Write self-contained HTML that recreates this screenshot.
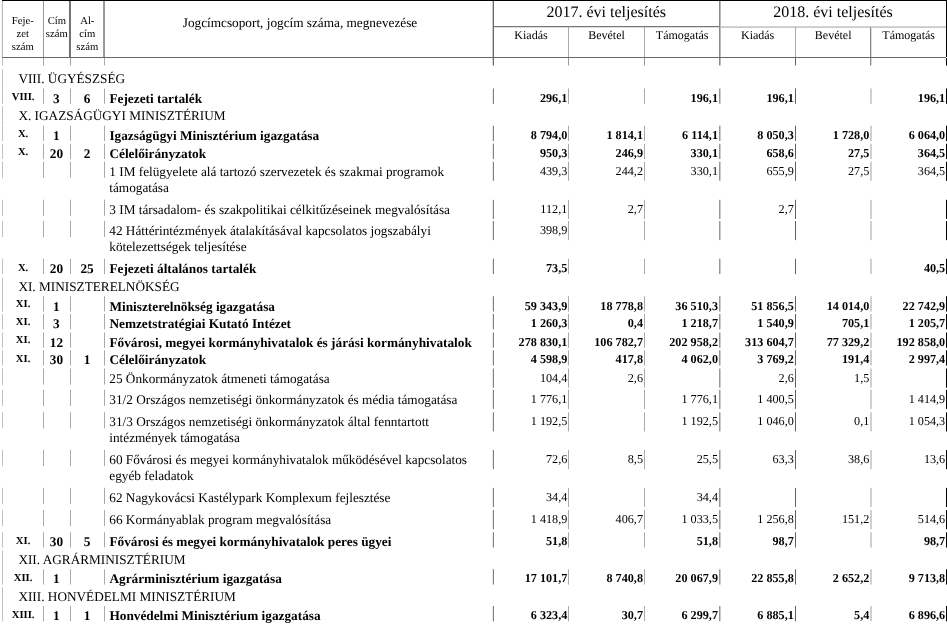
<!DOCTYPE html>
<html lang="hu">
<head>
<meta charset="utf-8">
<title>Fejezeti teljesítés</title>
<style>
html,body{margin:0;padding:0;background:#fff;}
body{width:947px;height:625px;position:relative;overflow:hidden;font-family:"Liberation Serif",serif;color:#000;}
#pg{will-change:transform;position:absolute;left:0;top:0;width:947px;height:625px;overflow:hidden;background:#fff;}
svg{position:absolute;left:0;top:0;}
.t{position:absolute;white-space:pre;line-height:20px;text-rendering:geometricPrecision;font-family:"Liberation Serif",serif;color:#000;}
.b{font-weight:bold;}
</style>
</head>
<body>
<div id="pg">
<svg width="947" height="625" viewBox="0 0 947 625">
<rect x="2" y="0" width="945" height="1" fill="#000000"/>
<rect x="493" y="26" width="227" height="1" fill="#777777"/>
<rect x="494" y="27" width="225" height="1" fill="#dddddd"/>
<rect x="720" y="26" width="226" height="1" fill="#d4d4d4"/>
<rect x="720" y="27" width="226" height="1" fill="#cacaca"/>
<rect x="2" y="57" width="944" height="1" fill="#686868"/>
<rect x="2" y="1.00" width="1" height="56.00" fill="#bcbcbc"/>
<rect x="1" y="1.00" width="1" height="56.00" fill="#efefef"/>
<rect x="2" y="58.00" width="1" height="7.50" fill="#c0c0c0"/>
<rect x="43" y="1.00" width="1" height="56.00" fill="#999999"/>
<rect x="43" y="58.00" width="1" height="7.50" fill="#a6a6a6"/>
<rect x="69" y="1.00" width="1" height="56.00" fill="#707070"/>
<rect x="70" y="1.00" width="1" height="56.00" fill="#787878"/>
<rect x="70" y="58.00" width="1" height="7.50" fill="#a2a2a2"/>
<rect x="103" y="1.00" width="1" height="56.00" fill="#9c9c9c"/>
<rect x="104" y="1.00" width="1" height="56.00" fill="#999999"/>
<rect x="104" y="58.00" width="1" height="7.50" fill="#aaaaaa"/>
<rect x="493" y="1.00" width="1" height="56.00" fill="#666666"/>
<rect x="492" y="1.00" width="1" height="56.00" fill="#cccccc"/>
<rect x="493" y="58.00" width="1" height="7.50" fill="#666666"/>
<rect x="492" y="58.00" width="1" height="7.50" fill="#d8d8d8"/>
<rect x="568" y="27.00" width="1" height="30.00" fill="#aaaaaa"/>
<rect x="568" y="58.00" width="1" height="7.50" fill="#999999"/>
<rect x="644" y="27.00" width="1" height="30.00" fill="#aaaaaa"/>
<rect x="644" y="58.00" width="1" height="7.50" fill="#999999"/>
<rect x="719" y="1.00" width="1" height="56.00" fill="#8a8a8a"/>
<rect x="720" y="1.00" width="1" height="56.00" fill="#bbbbbb"/>
<rect x="719" y="58.00" width="1" height="7.50" fill="#8a8a8a"/>
<rect x="720" y="58.00" width="1" height="7.50" fill="#bbbbbb"/>
<rect x="795" y="27.00" width="1" height="30.00" fill="#aaaaaa"/>
<rect x="795" y="58.00" width="1" height="7.50" fill="#606060"/>
<rect x="870" y="27.00" width="1" height="30.00" fill="#848484"/>
<rect x="871" y="27.00" width="1" height="30.00" fill="#dddddd"/>
<rect x="870" y="58.00" width="1" height="7.50" fill="#888888"/>
<rect x="871" y="58.00" width="1" height="7.50" fill="#dddddd"/>
<rect x="946" y="1.00" width="1" height="56.00" fill="#000000"/>
<rect x="946" y="58.00" width="1" height="7.50" fill="#000000"/>
<rect x="2" y="69.40" width="1" height="19.00" fill="#c0c0c0"/>
<rect x="2" y="88.50" width="1" height="15.30" fill="#c0c0c0"/>
<rect x="43" y="88.50" width="1" height="15.30" fill="#aaaaaa"/>
<rect x="70" y="88.50" width="1" height="15.30" fill="#aaaaaa"/>
<rect x="104" y="88.50" width="1" height="15.30" fill="#aaaaaa"/>
<rect x="493" y="88.50" width="1" height="15.30" fill="#808080"/>
<rect x="492" y="88.50" width="1" height="15.30" fill="#e8e8e8"/>
<rect x="568" y="88.50" width="1" height="15.30" fill="#aaaaaa"/>
<rect x="644" y="88.50" width="1" height="15.30" fill="#aaaaaa"/>
<rect x="719" y="88.50" width="1" height="15.30" fill="#999999"/>
<rect x="720" y="88.50" width="1" height="15.30" fill="#cccccc"/>
<rect x="795" y="88.50" width="1" height="15.30" fill="#606060"/>
<rect x="870" y="88.50" width="1" height="15.30" fill="#d0d0d0"/>
<rect x="871" y="88.50" width="1" height="15.30" fill="#d0d0d0"/>
<rect x="946" y="88.50" width="1" height="15.30" fill="#000000"/>
<rect x="2" y="106.20" width="1" height="19.00" fill="#c0c0c0"/>
<rect x="2" y="125.70" width="1" height="15.30" fill="#c0c0c0"/>
<rect x="43" y="125.70" width="1" height="15.30" fill="#aaaaaa"/>
<rect x="70" y="125.70" width="1" height="15.30" fill="#aaaaaa"/>
<rect x="104" y="125.70" width="1" height="15.30" fill="#aaaaaa"/>
<rect x="493" y="125.70" width="1" height="15.30" fill="#808080"/>
<rect x="492" y="125.70" width="1" height="15.30" fill="#e8e8e8"/>
<rect x="568" y="125.70" width="1" height="15.30" fill="#aaaaaa"/>
<rect x="644" y="125.70" width="1" height="15.30" fill="#aaaaaa"/>
<rect x="719" y="125.70" width="1" height="15.30" fill="#999999"/>
<rect x="720" y="125.70" width="1" height="15.30" fill="#cccccc"/>
<rect x="795" y="125.70" width="1" height="15.30" fill="#606060"/>
<rect x="870" y="125.70" width="1" height="15.30" fill="#d0d0d0"/>
<rect x="871" y="125.70" width="1" height="15.30" fill="#d0d0d0"/>
<rect x="946" y="125.70" width="1" height="15.30" fill="#000000"/>
<rect x="2" y="143.75" width="1" height="15.30" fill="#c0c0c0"/>
<rect x="43" y="143.75" width="1" height="15.30" fill="#aaaaaa"/>
<rect x="70" y="143.75" width="1" height="15.30" fill="#aaaaaa"/>
<rect x="104" y="143.75" width="1" height="15.30" fill="#aaaaaa"/>
<rect x="493" y="143.75" width="1" height="15.30" fill="#808080"/>
<rect x="492" y="143.75" width="1" height="15.30" fill="#e8e8e8"/>
<rect x="568" y="143.75" width="1" height="15.30" fill="#aaaaaa"/>
<rect x="644" y="143.75" width="1" height="15.30" fill="#aaaaaa"/>
<rect x="719" y="143.75" width="1" height="15.30" fill="#999999"/>
<rect x="720" y="143.75" width="1" height="15.30" fill="#cccccc"/>
<rect x="795" y="143.75" width="1" height="15.30" fill="#606060"/>
<rect x="870" y="143.75" width="1" height="15.30" fill="#d0d0d0"/>
<rect x="871" y="143.75" width="1" height="15.30" fill="#d0d0d0"/>
<rect x="946" y="143.75" width="1" height="15.30" fill="#000000"/>
<rect x="2" y="161.60" width="1" height="16.20" fill="#c0c0c0"/>
<rect x="43" y="161.60" width="1" height="16.20" fill="#aaaaaa"/>
<rect x="70" y="161.60" width="1" height="16.20" fill="#aaaaaa"/>
<rect x="104" y="161.60" width="1" height="16.20" fill="#aaaaaa"/>
<rect x="493" y="161.70" width="1" height="19.10" fill="#808080"/>
<rect x="492" y="161.70" width="1" height="19.10" fill="#e8e8e8"/>
<rect x="568" y="161.70" width="1" height="19.10" fill="#aaaaaa"/>
<rect x="644" y="161.70" width="1" height="19.10" fill="#aaaaaa"/>
<rect x="719" y="161.70" width="1" height="19.10" fill="#999999"/>
<rect x="720" y="161.70" width="1" height="19.10" fill="#cccccc"/>
<rect x="795" y="161.70" width="1" height="19.10" fill="#606060"/>
<rect x="870" y="161.70" width="1" height="19.10" fill="#d0d0d0"/>
<rect x="871" y="161.70" width="1" height="19.10" fill="#d0d0d0"/>
<rect x="946" y="161.70" width="1" height="19.10" fill="#000000"/>
<rect x="2" y="199.70" width="1" height="16.20" fill="#c0c0c0"/>
<rect x="43" y="199.70" width="1" height="16.20" fill="#aaaaaa"/>
<rect x="70" y="199.70" width="1" height="16.20" fill="#aaaaaa"/>
<rect x="104" y="199.70" width="1" height="16.20" fill="#aaaaaa"/>
<rect x="493" y="199.80" width="1" height="19.10" fill="#808080"/>
<rect x="492" y="199.80" width="1" height="19.10" fill="#e8e8e8"/>
<rect x="568" y="199.80" width="1" height="19.10" fill="#aaaaaa"/>
<rect x="644" y="199.80" width="1" height="19.10" fill="#aaaaaa"/>
<rect x="719" y="199.80" width="1" height="19.10" fill="#999999"/>
<rect x="720" y="199.80" width="1" height="19.10" fill="#cccccc"/>
<rect x="795" y="199.80" width="1" height="19.10" fill="#606060"/>
<rect x="870" y="199.80" width="1" height="19.10" fill="#d0d0d0"/>
<rect x="871" y="199.80" width="1" height="19.10" fill="#d0d0d0"/>
<rect x="946" y="199.80" width="1" height="19.10" fill="#000000"/>
<rect x="2" y="220.95" width="1" height="16.20" fill="#c0c0c0"/>
<rect x="43" y="220.95" width="1" height="16.20" fill="#aaaaaa"/>
<rect x="70" y="220.95" width="1" height="16.20" fill="#aaaaaa"/>
<rect x="104" y="220.95" width="1" height="16.20" fill="#aaaaaa"/>
<rect x="493" y="221.05" width="1" height="19.10" fill="#808080"/>
<rect x="492" y="221.05" width="1" height="19.10" fill="#e8e8e8"/>
<rect x="568" y="221.05" width="1" height="19.10" fill="#aaaaaa"/>
<rect x="644" y="221.05" width="1" height="19.10" fill="#aaaaaa"/>
<rect x="719" y="221.05" width="1" height="19.10" fill="#999999"/>
<rect x="720" y="221.05" width="1" height="19.10" fill="#cccccc"/>
<rect x="795" y="221.05" width="1" height="19.10" fill="#606060"/>
<rect x="870" y="221.05" width="1" height="19.10" fill="#d0d0d0"/>
<rect x="871" y="221.05" width="1" height="19.10" fill="#d0d0d0"/>
<rect x="946" y="221.05" width="1" height="19.10" fill="#000000"/>
<rect x="2" y="258.75" width="1" height="15.30" fill="#c0c0c0"/>
<rect x="43" y="258.75" width="1" height="15.30" fill="#aaaaaa"/>
<rect x="70" y="258.75" width="1" height="15.30" fill="#aaaaaa"/>
<rect x="104" y="258.75" width="1" height="15.30" fill="#aaaaaa"/>
<rect x="493" y="258.75" width="1" height="15.30" fill="#808080"/>
<rect x="492" y="258.75" width="1" height="15.30" fill="#e8e8e8"/>
<rect x="568" y="258.75" width="1" height="15.30" fill="#aaaaaa"/>
<rect x="644" y="258.75" width="1" height="15.30" fill="#aaaaaa"/>
<rect x="719" y="258.75" width="1" height="15.30" fill="#999999"/>
<rect x="720" y="258.75" width="1" height="15.30" fill="#cccccc"/>
<rect x="795" y="258.75" width="1" height="15.30" fill="#606060"/>
<rect x="870" y="258.75" width="1" height="15.30" fill="#d0d0d0"/>
<rect x="871" y="258.75" width="1" height="15.30" fill="#d0d0d0"/>
<rect x="946" y="258.75" width="1" height="15.30" fill="#000000"/>
<rect x="2" y="277.50" width="1" height="19.00" fill="#c0c0c0"/>
<rect x="2" y="296.25" width="1" height="15.30" fill="#c0c0c0"/>
<rect x="43" y="296.25" width="1" height="15.30" fill="#aaaaaa"/>
<rect x="70" y="296.25" width="1" height="15.30" fill="#aaaaaa"/>
<rect x="104" y="296.25" width="1" height="15.30" fill="#aaaaaa"/>
<rect x="493" y="296.25" width="1" height="15.30" fill="#808080"/>
<rect x="492" y="296.25" width="1" height="15.30" fill="#e8e8e8"/>
<rect x="568" y="296.25" width="1" height="15.30" fill="#aaaaaa"/>
<rect x="644" y="296.25" width="1" height="15.30" fill="#aaaaaa"/>
<rect x="719" y="296.25" width="1" height="15.30" fill="#999999"/>
<rect x="720" y="296.25" width="1" height="15.30" fill="#cccccc"/>
<rect x="795" y="296.25" width="1" height="15.30" fill="#606060"/>
<rect x="870" y="296.25" width="1" height="15.30" fill="#d0d0d0"/>
<rect x="871" y="296.25" width="1" height="15.30" fill="#d0d0d0"/>
<rect x="946" y="296.25" width="1" height="15.30" fill="#000000"/>
<rect x="2" y="314.00" width="1" height="15.30" fill="#c0c0c0"/>
<rect x="43" y="314.00" width="1" height="15.30" fill="#aaaaaa"/>
<rect x="70" y="314.00" width="1" height="15.30" fill="#aaaaaa"/>
<rect x="104" y="314.00" width="1" height="15.30" fill="#aaaaaa"/>
<rect x="493" y="314.00" width="1" height="15.30" fill="#808080"/>
<rect x="492" y="314.00" width="1" height="15.30" fill="#e8e8e8"/>
<rect x="568" y="314.00" width="1" height="15.30" fill="#aaaaaa"/>
<rect x="644" y="314.00" width="1" height="15.30" fill="#aaaaaa"/>
<rect x="719" y="314.00" width="1" height="15.30" fill="#999999"/>
<rect x="720" y="314.00" width="1" height="15.30" fill="#cccccc"/>
<rect x="795" y="314.00" width="1" height="15.30" fill="#606060"/>
<rect x="870" y="314.00" width="1" height="15.30" fill="#d0d0d0"/>
<rect x="871" y="314.00" width="1" height="15.30" fill="#d0d0d0"/>
<rect x="946" y="314.00" width="1" height="15.30" fill="#000000"/>
<rect x="2" y="332.50" width="1" height="15.30" fill="#c0c0c0"/>
<rect x="43" y="332.50" width="1" height="15.30" fill="#aaaaaa"/>
<rect x="70" y="332.50" width="1" height="15.30" fill="#aaaaaa"/>
<rect x="104" y="332.50" width="1" height="15.30" fill="#aaaaaa"/>
<rect x="493" y="332.50" width="1" height="15.30" fill="#808080"/>
<rect x="492" y="332.50" width="1" height="15.30" fill="#e8e8e8"/>
<rect x="568" y="332.50" width="1" height="15.30" fill="#aaaaaa"/>
<rect x="644" y="332.50" width="1" height="15.30" fill="#aaaaaa"/>
<rect x="719" y="332.50" width="1" height="15.30" fill="#999999"/>
<rect x="720" y="332.50" width="1" height="15.30" fill="#cccccc"/>
<rect x="795" y="332.50" width="1" height="15.30" fill="#606060"/>
<rect x="870" y="332.50" width="1" height="15.30" fill="#d0d0d0"/>
<rect x="871" y="332.50" width="1" height="15.30" fill="#d0d0d0"/>
<rect x="946" y="332.50" width="1" height="15.30" fill="#000000"/>
<rect x="2" y="350.25" width="1" height="15.30" fill="#c0c0c0"/>
<rect x="43" y="350.25" width="1" height="15.30" fill="#aaaaaa"/>
<rect x="70" y="350.25" width="1" height="15.30" fill="#aaaaaa"/>
<rect x="104" y="350.25" width="1" height="15.30" fill="#aaaaaa"/>
<rect x="493" y="350.25" width="1" height="15.30" fill="#808080"/>
<rect x="492" y="350.25" width="1" height="15.30" fill="#e8e8e8"/>
<rect x="568" y="350.25" width="1" height="15.30" fill="#aaaaaa"/>
<rect x="644" y="350.25" width="1" height="15.30" fill="#aaaaaa"/>
<rect x="719" y="350.25" width="1" height="15.30" fill="#999999"/>
<rect x="720" y="350.25" width="1" height="15.30" fill="#cccccc"/>
<rect x="795" y="350.25" width="1" height="15.30" fill="#606060"/>
<rect x="870" y="350.25" width="1" height="15.30" fill="#d0d0d0"/>
<rect x="871" y="350.25" width="1" height="15.30" fill="#d0d0d0"/>
<rect x="946" y="350.25" width="1" height="15.30" fill="#000000"/>
<rect x="2" y="368.45" width="1" height="16.20" fill="#c0c0c0"/>
<rect x="43" y="368.45" width="1" height="16.20" fill="#aaaaaa"/>
<rect x="70" y="368.45" width="1" height="16.20" fill="#aaaaaa"/>
<rect x="104" y="368.45" width="1" height="16.20" fill="#aaaaaa"/>
<rect x="493" y="368.55" width="1" height="19.10" fill="#808080"/>
<rect x="492" y="368.55" width="1" height="19.10" fill="#e8e8e8"/>
<rect x="568" y="368.55" width="1" height="19.10" fill="#aaaaaa"/>
<rect x="644" y="368.55" width="1" height="19.10" fill="#aaaaaa"/>
<rect x="719" y="368.55" width="1" height="19.10" fill="#999999"/>
<rect x="720" y="368.55" width="1" height="19.10" fill="#cccccc"/>
<rect x="795" y="368.55" width="1" height="19.10" fill="#606060"/>
<rect x="870" y="368.55" width="1" height="19.10" fill="#d0d0d0"/>
<rect x="871" y="368.55" width="1" height="19.10" fill="#d0d0d0"/>
<rect x="946" y="368.55" width="1" height="19.10" fill="#000000"/>
<rect x="2" y="389.70" width="1" height="16.20" fill="#c0c0c0"/>
<rect x="43" y="389.70" width="1" height="16.20" fill="#aaaaaa"/>
<rect x="70" y="389.70" width="1" height="16.20" fill="#aaaaaa"/>
<rect x="104" y="389.70" width="1" height="16.20" fill="#aaaaaa"/>
<rect x="493" y="389.80" width="1" height="19.10" fill="#808080"/>
<rect x="492" y="389.80" width="1" height="19.10" fill="#e8e8e8"/>
<rect x="568" y="389.80" width="1" height="19.10" fill="#aaaaaa"/>
<rect x="644" y="389.80" width="1" height="19.10" fill="#aaaaaa"/>
<rect x="719" y="389.80" width="1" height="19.10" fill="#999999"/>
<rect x="720" y="389.80" width="1" height="19.10" fill="#cccccc"/>
<rect x="795" y="389.80" width="1" height="19.10" fill="#606060"/>
<rect x="870" y="389.80" width="1" height="19.10" fill="#d0d0d0"/>
<rect x="871" y="389.80" width="1" height="19.10" fill="#d0d0d0"/>
<rect x="946" y="389.80" width="1" height="19.10" fill="#000000"/>
<rect x="2" y="412.20" width="1" height="16.20" fill="#c0c0c0"/>
<rect x="43" y="412.20" width="1" height="16.20" fill="#aaaaaa"/>
<rect x="70" y="412.20" width="1" height="16.20" fill="#aaaaaa"/>
<rect x="104" y="412.20" width="1" height="16.20" fill="#aaaaaa"/>
<rect x="493" y="412.30" width="1" height="19.10" fill="#808080"/>
<rect x="492" y="412.30" width="1" height="19.10" fill="#e8e8e8"/>
<rect x="568" y="412.30" width="1" height="19.10" fill="#aaaaaa"/>
<rect x="644" y="412.30" width="1" height="19.10" fill="#aaaaaa"/>
<rect x="719" y="412.30" width="1" height="19.10" fill="#999999"/>
<rect x="720" y="412.30" width="1" height="19.10" fill="#cccccc"/>
<rect x="795" y="412.30" width="1" height="19.10" fill="#606060"/>
<rect x="870" y="412.30" width="1" height="19.10" fill="#d0d0d0"/>
<rect x="871" y="412.30" width="1" height="19.10" fill="#d0d0d0"/>
<rect x="946" y="412.30" width="1" height="19.10" fill="#000000"/>
<rect x="2" y="449.95" width="1" height="16.20" fill="#c0c0c0"/>
<rect x="43" y="449.95" width="1" height="16.20" fill="#aaaaaa"/>
<rect x="70" y="449.95" width="1" height="16.20" fill="#aaaaaa"/>
<rect x="104" y="449.95" width="1" height="16.20" fill="#aaaaaa"/>
<rect x="493" y="450.05" width="1" height="19.10" fill="#808080"/>
<rect x="492" y="450.05" width="1" height="19.10" fill="#e8e8e8"/>
<rect x="568" y="450.05" width="1" height="19.10" fill="#aaaaaa"/>
<rect x="644" y="450.05" width="1" height="19.10" fill="#aaaaaa"/>
<rect x="719" y="450.05" width="1" height="19.10" fill="#999999"/>
<rect x="720" y="450.05" width="1" height="19.10" fill="#cccccc"/>
<rect x="795" y="450.05" width="1" height="19.10" fill="#606060"/>
<rect x="870" y="450.05" width="1" height="19.10" fill="#d0d0d0"/>
<rect x="871" y="450.05" width="1" height="19.10" fill="#d0d0d0"/>
<rect x="946" y="450.05" width="1" height="19.10" fill="#000000"/>
<rect x="2" y="487.80" width="1" height="16.20" fill="#c0c0c0"/>
<rect x="43" y="487.80" width="1" height="16.20" fill="#aaaaaa"/>
<rect x="70" y="487.80" width="1" height="16.20" fill="#aaaaaa"/>
<rect x="104" y="487.80" width="1" height="16.20" fill="#aaaaaa"/>
<rect x="493" y="487.90" width="1" height="19.10" fill="#808080"/>
<rect x="492" y="487.90" width="1" height="19.10" fill="#e8e8e8"/>
<rect x="568" y="487.90" width="1" height="19.10" fill="#aaaaaa"/>
<rect x="644" y="487.90" width="1" height="19.10" fill="#aaaaaa"/>
<rect x="719" y="487.90" width="1" height="19.10" fill="#999999"/>
<rect x="720" y="487.90" width="1" height="19.10" fill="#cccccc"/>
<rect x="795" y="487.90" width="1" height="19.10" fill="#606060"/>
<rect x="870" y="487.90" width="1" height="19.10" fill="#d0d0d0"/>
<rect x="871" y="487.90" width="1" height="19.10" fill="#d0d0d0"/>
<rect x="946" y="487.90" width="1" height="19.10" fill="#000000"/>
<rect x="2" y="509.95" width="1" height="16.20" fill="#c0c0c0"/>
<rect x="43" y="509.95" width="1" height="16.20" fill="#aaaaaa"/>
<rect x="70" y="509.95" width="1" height="16.20" fill="#aaaaaa"/>
<rect x="104" y="509.95" width="1" height="16.20" fill="#aaaaaa"/>
<rect x="493" y="510.05" width="1" height="19.10" fill="#808080"/>
<rect x="492" y="510.05" width="1" height="19.10" fill="#e8e8e8"/>
<rect x="568" y="510.05" width="1" height="19.10" fill="#aaaaaa"/>
<rect x="644" y="510.05" width="1" height="19.10" fill="#aaaaaa"/>
<rect x="719" y="510.05" width="1" height="19.10" fill="#999999"/>
<rect x="720" y="510.05" width="1" height="19.10" fill="#cccccc"/>
<rect x="795" y="510.05" width="1" height="19.10" fill="#606060"/>
<rect x="870" y="510.05" width="1" height="19.10" fill="#d0d0d0"/>
<rect x="871" y="510.05" width="1" height="19.10" fill="#d0d0d0"/>
<rect x="946" y="510.05" width="1" height="19.10" fill="#000000"/>
<rect x="2" y="532.25" width="1" height="15.30" fill="#c0c0c0"/>
<rect x="43" y="532.25" width="1" height="15.30" fill="#aaaaaa"/>
<rect x="70" y="532.25" width="1" height="15.30" fill="#aaaaaa"/>
<rect x="104" y="532.25" width="1" height="15.30" fill="#aaaaaa"/>
<rect x="493" y="532.25" width="1" height="15.30" fill="#808080"/>
<rect x="492" y="532.25" width="1" height="15.30" fill="#e8e8e8"/>
<rect x="568" y="532.25" width="1" height="15.30" fill="#aaaaaa"/>
<rect x="644" y="532.25" width="1" height="15.30" fill="#aaaaaa"/>
<rect x="719" y="532.25" width="1" height="15.30" fill="#999999"/>
<rect x="720" y="532.25" width="1" height="15.30" fill="#cccccc"/>
<rect x="795" y="532.25" width="1" height="15.30" fill="#606060"/>
<rect x="870" y="532.25" width="1" height="15.30" fill="#d0d0d0"/>
<rect x="871" y="532.25" width="1" height="15.30" fill="#d0d0d0"/>
<rect x="946" y="532.25" width="1" height="15.30" fill="#000000"/>
<rect x="2" y="550.50" width="1" height="19.00" fill="#c0c0c0"/>
<rect x="2" y="569.25" width="1" height="15.30" fill="#c0c0c0"/>
<rect x="43" y="569.25" width="1" height="15.30" fill="#aaaaaa"/>
<rect x="70" y="569.25" width="1" height="15.30" fill="#aaaaaa"/>
<rect x="104" y="569.25" width="1" height="15.30" fill="#aaaaaa"/>
<rect x="493" y="569.25" width="1" height="15.30" fill="#808080"/>
<rect x="492" y="569.25" width="1" height="15.30" fill="#e8e8e8"/>
<rect x="568" y="569.25" width="1" height="15.30" fill="#aaaaaa"/>
<rect x="644" y="569.25" width="1" height="15.30" fill="#aaaaaa"/>
<rect x="719" y="569.25" width="1" height="15.30" fill="#999999"/>
<rect x="720" y="569.25" width="1" height="15.30" fill="#cccccc"/>
<rect x="795" y="569.25" width="1" height="15.30" fill="#606060"/>
<rect x="870" y="569.25" width="1" height="15.30" fill="#d0d0d0"/>
<rect x="871" y="569.25" width="1" height="15.30" fill="#d0d0d0"/>
<rect x="946" y="569.25" width="1" height="15.30" fill="#000000"/>
<rect x="2" y="587.00" width="1" height="19.00" fill="#c0c0c0"/>
<rect x="2" y="606.00" width="1" height="15.30" fill="#c0c0c0"/>
<rect x="43" y="606.00" width="1" height="15.30" fill="#aaaaaa"/>
<rect x="70" y="606.00" width="1" height="15.30" fill="#aaaaaa"/>
<rect x="104" y="606.00" width="1" height="15.30" fill="#aaaaaa"/>
<rect x="493" y="606.00" width="1" height="15.30" fill="#808080"/>
<rect x="492" y="606.00" width="1" height="15.30" fill="#e8e8e8"/>
<rect x="568" y="606.00" width="1" height="15.30" fill="#aaaaaa"/>
<rect x="644" y="606.00" width="1" height="15.30" fill="#aaaaaa"/>
<rect x="719" y="606.00" width="1" height="15.30" fill="#999999"/>
<rect x="720" y="606.00" width="1" height="15.30" fill="#cccccc"/>
<rect x="795" y="606.00" width="1" height="15.30" fill="#606060"/>
<rect x="870" y="606.00" width="1" height="15.30" fill="#d0d0d0"/>
<rect x="871" y="606.00" width="1" height="15.30" fill="#d0d0d0"/>
<rect x="946" y="606.00" width="1" height="15.30" fill="#000000"/>
</svg>
<div class="t" style="left:-127.20px;width:300px;text-align:center;top:11px;font-size:10.67px;">Feje-</div>
<div class="t" style="left:-127.20px;width:300px;text-align:center;top:24px;font-size:10.67px;">zet</div>
<div class="t" style="left:-127.20px;width:300px;text-align:center;top:37px;font-size:10.67px;">szám</div>
<div class="t" style="left:-93.20px;width:300px;text-align:center;top:11px;font-size:10.67px;">Cím</div>
<div class="t" style="left:-93.20px;width:300px;text-align:center;top:24px;font-size:10.67px;">szám</div>
<div class="t" style="left:-62.70px;width:300px;text-align:center;top:11px;font-size:10.67px;">Al-</div>
<div class="t" style="left:-62.70px;width:300px;text-align:center;top:24px;font-size:10.67px;">cím</div>
<div class="t" style="left:-62.70px;width:300px;text-align:center;top:37px;font-size:10.67px;">szám</div>
<div class="t" style="left:150.00px;width:300px;text-align:center;top:13px;font-size:13.26px;">Jogcímcsoport, jogcím száma, megnevezése</div>
<div class="t" style="left:456.20px;width:300px;text-align:center;top:3px;font-size:16px;">2017. évi teljesítés</div>
<div class="t" style="left:683.00px;width:300px;text-align:center;top:3px;font-size:16px;">2018. évi teljesítés</div>
<div class="t" style="left:381.00px;width:300px;text-align:center;top:25px;font-size:12.0px;">Kiadás</div>
<div class="t" style="left:456.50px;width:300px;text-align:center;top:25px;font-size:12.0px;">Bevétel</div>
<div class="t" style="left:532.15px;width:300px;text-align:center;top:25px;font-size:12.0px;">Támogatás</div>
<div class="t" style="left:607.65px;width:300px;text-align:center;top:25px;font-size:12.0px;">Kiadás</div>
<div class="t" style="left:683.15px;width:300px;text-align:center;top:25px;font-size:12.0px;">Bevétel</div>
<div class="t" style="left:758.65px;width:300px;text-align:center;top:25px;font-size:12.0px;">Támogatás</div>
<div class="t" style="left:18.40px;top:69px;font-size:13.26px;">VIII. ÜGYÉSZSÉG</div>
<div class="t b" style="left:-126.90px;width:300px;text-align:center;top:87px;font-size:10.67px;">VIII.</div>
<div class="t b" style="left:-93.60px;width:300px;text-align:center;top:89px;font-size:13.26px;">3</div>
<div class="t b" style="left:-63.00px;width:300px;text-align:center;top:89px;font-size:13.26px;">6</div>
<div class="t b" style="left:109.40px;top:89px;font-size:13.3px;">Fejezeti tartalék</div>
<div class="t b" style="right:379.70px;top:88px;font-size:12.2px;">296,1</div>
<div class="t b" style="right:229.00px;top:88px;font-size:12.2px;">196,1</div>
<div class="t b" style="right:153.20px;top:88px;font-size:12.2px;">196,1</div>
<div class="t b" style="right:1.80px;top:88px;font-size:12.2px;">196,1</div>
<div class="t" style="left:18.40px;top:106px;font-size:13.26px;">X. IGAZSÁGÜGYI MINISZTÉRIUM</div>
<div class="t b" style="left:-126.90px;width:300px;text-align:center;top:124px;font-size:10.67px;">X.</div>
<div class="t b" style="left:-93.60px;width:300px;text-align:center;top:126px;font-size:13.26px;">1</div>
<div class="t b" style="left:109.40px;top:126px;font-size:13.3px;">Igazságügyi Minisztérium igazgatása</div>
<div class="t b" style="right:379.70px;top:125px;font-size:12.2px;">8 794,0</div>
<div class="t b" style="right:304.00px;top:125px;font-size:12.2px;">1 814,1</div>
<div class="t b" style="right:229.00px;top:125px;font-size:12.2px;">6 114,1</div>
<div class="t b" style="right:153.20px;top:125px;font-size:12.2px;">8 050,3</div>
<div class="t b" style="right:77.70px;top:125px;font-size:12.2px;">1 728,0</div>
<div class="t b" style="right:1.80px;top:125px;font-size:12.2px;">6 064,0</div>
<div class="t b" style="left:-126.90px;width:300px;text-align:center;top:142px;font-size:10.67px;">X.</div>
<div class="t b" style="left:-93.60px;width:300px;text-align:center;top:144px;font-size:13.26px;">20</div>
<div class="t b" style="left:-63.00px;width:300px;text-align:center;top:144px;font-size:13.26px;">2</div>
<div class="t b" style="left:109.40px;top:144px;font-size:13.3px;">Célelőirányzatok</div>
<div class="t b" style="right:379.70px;top:143px;font-size:12.2px;">950,3</div>
<div class="t b" style="right:304.00px;top:143px;font-size:12.2px;">246,9</div>
<div class="t b" style="right:229.00px;top:143px;font-size:12.2px;">330,1</div>
<div class="t b" style="right:153.20px;top:143px;font-size:12.2px;">658,6</div>
<div class="t b" style="right:77.70px;top:143px;font-size:12.2px;">27,5</div>
<div class="t b" style="right:1.80px;top:143px;font-size:12.2px;">364,5</div>
<div class="t" style="left:109.30px;top:162px;font-size:13.26px;">1 IM felügyelete alá tartozó szervezetek és szakmai programok</div>
<div class="t" style="left:109.30px;top:178px;font-size:13.26px;">támogatása</div>
<div class="t" style="right:379.70px;top:161px;font-size:12.2px;">439,3</div>
<div class="t" style="right:304.00px;top:161px;font-size:12.2px;">244,2</div>
<div class="t" style="right:229.00px;top:161px;font-size:12.2px;">330,1</div>
<div class="t" style="right:153.20px;top:161px;font-size:12.2px;">655,9</div>
<div class="t" style="right:77.70px;top:161px;font-size:12.2px;">27,5</div>
<div class="t" style="right:1.80px;top:161px;font-size:12.2px;">364,5</div>
<div class="t" style="left:109.30px;top:200px;font-size:13.26px;">3 IM társadalom- és szakpolitikai célkitűzéseinek megvalósítása</div>
<div class="t" style="right:379.70px;top:199px;font-size:12.2px;">112,1</div>
<div class="t" style="right:304.00px;top:199px;font-size:12.2px;">2,7</div>
<div class="t" style="right:153.20px;top:199px;font-size:12.2px;">2,7</div>
<div class="t" style="left:109.30px;top:221px;font-size:13.26px;">42 Háttérintézmények átalakításával kapcsolatos jogszabályi</div>
<div class="t" style="left:109.30px;top:237px;font-size:13.26px;">kötelezettségek teljesítése</div>
<div class="t" style="right:379.70px;top:220px;font-size:12.2px;">398,9</div>
<div class="t b" style="left:-126.90px;width:300px;text-align:center;top:258px;font-size:10.67px;">X.</div>
<div class="t b" style="left:-93.60px;width:300px;text-align:center;top:259px;font-size:13.26px;">20</div>
<div class="t b" style="left:-63.00px;width:300px;text-align:center;top:259px;font-size:13.26px;">25</div>
<div class="t b" style="left:109.40px;top:259px;font-size:13.3px;">Fejezeti általános tartalék</div>
<div class="t b" style="right:379.70px;top:258px;font-size:12.2px;">73,5</div>
<div class="t b" style="right:1.80px;top:258px;font-size:12.2px;">40,5</div>
<div class="t" style="left:18.40px;top:277px;font-size:13.26px;">XI. MINISZTERELNÖKSÉG</div>
<div class="t b" style="left:-126.90px;width:300px;text-align:center;top:294px;font-size:10.67px;">XI.</div>
<div class="t b" style="left:-93.60px;width:300px;text-align:center;top:297px;font-size:13.26px;">1</div>
<div class="t b" style="left:109.40px;top:297px;font-size:13.3px;">Miniszterelnökség igazgatása</div>
<div class="t b" style="right:379.70px;top:296px;font-size:12.2px;">59 343,9</div>
<div class="t b" style="right:304.00px;top:296px;font-size:12.2px;">18 778,8</div>
<div class="t b" style="right:229.00px;top:296px;font-size:12.2px;">36 510,3</div>
<div class="t b" style="right:153.20px;top:296px;font-size:12.2px;">51 856,5</div>
<div class="t b" style="right:77.70px;top:296px;font-size:12.2px;">14 014,0</div>
<div class="t b" style="right:1.80px;top:296px;font-size:12.2px;">22 742,9</div>
<div class="t b" style="left:-126.90px;width:300px;text-align:center;top:312px;font-size:10.67px;">XI.</div>
<div class="t b" style="left:-93.60px;width:300px;text-align:center;top:314px;font-size:13.26px;">3</div>
<div class="t b" style="left:109.40px;top:314px;font-size:13.3px;">Nemzetstratégiai Kutató Intézet</div>
<div class="t b" style="right:379.70px;top:313px;font-size:12.2px;">1 260,3</div>
<div class="t b" style="right:304.00px;top:313px;font-size:12.2px;">0,4</div>
<div class="t b" style="right:229.00px;top:313px;font-size:12.2px;">1 218,7</div>
<div class="t b" style="right:153.20px;top:313px;font-size:12.2px;">1 540,9</div>
<div class="t b" style="right:77.70px;top:313px;font-size:12.2px;">705,1</div>
<div class="t b" style="right:1.80px;top:313px;font-size:12.2px;">1 205,7</div>
<div class="t b" style="left:-126.90px;width:300px;text-align:center;top:330px;font-size:10.67px;">XI.</div>
<div class="t b" style="left:-93.60px;width:300px;text-align:center;top:333px;font-size:13.26px;">12</div>
<div class="t b" style="left:109.40px;top:333px;font-size:13.3px;">Fővárosi, megyei kormányhivatalok és járási kormányhivatalok</div>
<div class="t b" style="right:379.70px;top:332px;font-size:12.2px;">278 830,1</div>
<div class="t b" style="right:304.00px;top:332px;font-size:12.2px;">106 782,7</div>
<div class="t b" style="right:229.00px;top:332px;font-size:12.2px;">202 958,2</div>
<div class="t b" style="right:153.20px;top:332px;font-size:12.2px;">313 604,7</div>
<div class="t b" style="right:77.70px;top:332px;font-size:12.2px;">77 329,2</div>
<div class="t b" style="right:1.80px;top:332px;font-size:12.2px;">192 858,0</div>
<div class="t b" style="left:-126.90px;width:300px;text-align:center;top:349px;font-size:10.67px;">XI.</div>
<div class="t b" style="left:-93.60px;width:300px;text-align:center;top:350px;font-size:13.26px;">30</div>
<div class="t b" style="left:-63.00px;width:300px;text-align:center;top:350px;font-size:13.26px;">1</div>
<div class="t b" style="left:109.40px;top:350px;font-size:13.3px;">Célelőirányzatok</div>
<div class="t b" style="right:379.70px;top:349px;font-size:12.2px;">4 598,9</div>
<div class="t b" style="right:304.00px;top:349px;font-size:12.2px;">417,8</div>
<div class="t b" style="right:229.00px;top:349px;font-size:12.2px;">4 062,0</div>
<div class="t b" style="right:153.20px;top:349px;font-size:12.2px;">3 769,2</div>
<div class="t b" style="right:77.70px;top:349px;font-size:12.2px;">191,4</div>
<div class="t b" style="right:1.80px;top:349px;font-size:12.2px;">2 997,4</div>
<div class="t" style="left:109.30px;top:369px;font-size:13.26px;">25 Önkormányzatok átmeneti támogatása</div>
<div class="t" style="right:379.70px;top:368px;font-size:12.2px;">104,4</div>
<div class="t" style="right:304.00px;top:368px;font-size:12.2px;">2,6</div>
<div class="t" style="right:153.20px;top:368px;font-size:12.2px;">2,6</div>
<div class="t" style="right:77.70px;top:368px;font-size:12.2px;">1,5</div>
<div class="t" style="left:109.30px;top:390px;font-size:13.26px;">31/2 Országos nemzetiségi önkormányzatok és média támogatása</div>
<div class="t" style="right:379.70px;top:389px;font-size:12.2px;">1 776,1</div>
<div class="t" style="right:229.00px;top:389px;font-size:12.2px;">1 776,1</div>
<div class="t" style="right:153.20px;top:389px;font-size:12.2px;">1 400,5</div>
<div class="t" style="right:1.80px;top:389px;font-size:12.2px;">1 414,9</div>
<div class="t" style="left:109.30px;top:412px;font-size:13.26px;">31/3 Országos nemzetiségi önkormányzatok által fenntartott</div>
<div class="t" style="left:109.30px;top:428px;font-size:13.26px;">intézmények támogatása</div>
<div class="t" style="right:379.70px;top:411px;font-size:12.2px;">1 192,5</div>
<div class="t" style="right:229.00px;top:411px;font-size:12.2px;">1 192,5</div>
<div class="t" style="right:153.20px;top:411px;font-size:12.2px;">1 046,0</div>
<div class="t" style="right:77.70px;top:411px;font-size:12.2px;">0,1</div>
<div class="t" style="right:1.80px;top:411px;font-size:12.2px;">1 054,3</div>
<div class="t" style="left:109.30px;top:450px;font-size:13.26px;">60 Fővárosi és megyei kormányhivatalok működésével kapcsolatos</div>
<div class="t" style="left:109.30px;top:466px;font-size:13.26px;">egyéb feladatok</div>
<div class="t" style="right:379.70px;top:449px;font-size:12.2px;">72,6</div>
<div class="t" style="right:304.00px;top:449px;font-size:12.2px;">8,5</div>
<div class="t" style="right:229.00px;top:449px;font-size:12.2px;">25,5</div>
<div class="t" style="right:153.20px;top:449px;font-size:12.2px;">63,3</div>
<div class="t" style="right:77.70px;top:449px;font-size:12.2px;">38,6</div>
<div class="t" style="right:1.80px;top:449px;font-size:12.2px;">13,6</div>
<div class="t" style="left:109.30px;top:488px;font-size:13.26px;">62 Nagykovácsi Kastélypark Komplexum fejlesztése</div>
<div class="t" style="right:379.70px;top:487px;font-size:12.2px;">34,4</div>
<div class="t" style="right:229.00px;top:487px;font-size:12.2px;">34,4</div>
<div class="t" style="left:109.30px;top:510px;font-size:13.26px;">66 Kormányablak program megvalósítása</div>
<div class="t" style="right:379.70px;top:509px;font-size:12.2px;">1 418,9</div>
<div class="t" style="right:304.00px;top:509px;font-size:12.2px;">406,7</div>
<div class="t" style="right:229.00px;top:509px;font-size:12.2px;">1 033,5</div>
<div class="t" style="right:153.20px;top:509px;font-size:12.2px;">1 256,8</div>
<div class="t" style="right:77.70px;top:509px;font-size:12.2px;">151,2</div>
<div class="t" style="right:1.80px;top:509px;font-size:12.2px;">514,6</div>
<div class="t b" style="left:-126.90px;width:300px;text-align:center;top:531px;font-size:10.67px;">XI.</div>
<div class="t b" style="left:-93.60px;width:300px;text-align:center;top:532px;font-size:13.26px;">30</div>
<div class="t b" style="left:-63.00px;width:300px;text-align:center;top:532px;font-size:13.26px;">5</div>
<div class="t b" style="left:109.40px;top:532px;font-size:13.3px;">Fővárosi és megyei kormányhivatalok peres ügyei</div>
<div class="t b" style="right:379.70px;top:531px;font-size:12.2px;">51,8</div>
<div class="t b" style="right:229.00px;top:531px;font-size:12.2px;">51,8</div>
<div class="t b" style="right:153.20px;top:531px;font-size:12.2px;">98,7</div>
<div class="t b" style="right:1.80px;top:531px;font-size:12.2px;">98,7</div>
<div class="t" style="left:18.40px;top:550px;font-size:13.26px;">XII. AGRÁRMINISZTÉRIUM</div>
<div class="t b" style="left:-126.90px;width:300px;text-align:center;top:568px;font-size:10.67px;">XII.</div>
<div class="t b" style="left:-93.60px;width:300px;text-align:center;top:569px;font-size:13.26px;">1</div>
<div class="t b" style="left:109.40px;top:569px;font-size:13.3px;">Agrárminisztérium igazgatása</div>
<div class="t b" style="right:379.70px;top:568px;font-size:12.2px;">17 101,7</div>
<div class="t b" style="right:304.00px;top:568px;font-size:12.2px;">8 740,8</div>
<div class="t b" style="right:229.00px;top:568px;font-size:12.2px;">20 067,9</div>
<div class="t b" style="right:153.20px;top:568px;font-size:12.2px;">22 855,8</div>
<div class="t b" style="right:77.70px;top:568px;font-size:12.2px;">2 652,2</div>
<div class="t b" style="right:1.80px;top:568px;font-size:12.2px;">9 713,8</div>
<div class="t" style="left:18.40px;top:587px;font-size:13.26px;">XIII. HONVÉDELMI MINISZTÉRIUM</div>
<div class="t b" style="left:-126.90px;width:300px;text-align:center;top:605px;font-size:10.67px;">XIII.</div>
<div class="t b" style="left:-93.60px;width:300px;text-align:center;top:606px;font-size:13.26px;">1</div>
<div class="t b" style="left:-63.00px;width:300px;text-align:center;top:606px;font-size:13.26px;">1</div>
<div class="t b" style="left:109.40px;top:606px;font-size:13.3px;">Honvédelmi Minisztérium igazgatása</div>
<div class="t b" style="right:379.70px;top:605px;font-size:12.2px;">6 323,4</div>
<div class="t b" style="right:304.00px;top:605px;font-size:12.2px;">30,7</div>
<div class="t b" style="right:229.00px;top:605px;font-size:12.2px;">6 299,7</div>
<div class="t b" style="right:153.20px;top:605px;font-size:12.2px;">6 885,1</div>
<div class="t b" style="right:77.70px;top:605px;font-size:12.2px;">5,4</div>
<div class="t b" style="right:1.80px;top:605px;font-size:12.2px;">6 896,6</div>
</div>
</body>
</html>
